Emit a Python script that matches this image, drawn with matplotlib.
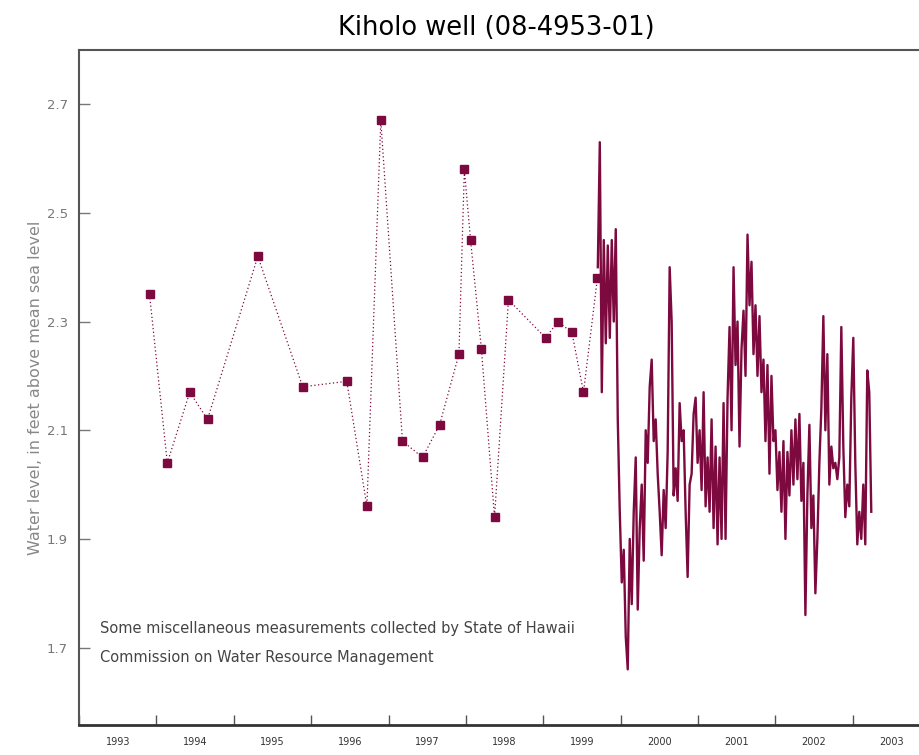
# Kiholo well water level record: occasional manual readings plus continuous record

import matplotlib.pyplot as plt
import numpy as np

# occasional measurements (decimal year, feet above msl)
manual_years = [1993.91, 1994.14, 1994.43, 1994.66, 1995.31, 1995.89, 1996.46,
                1996.72, 1996.90, 1997.18, 1997.44, 1997.66, 1997.91, 1997.98,
                1998.06, 1998.20, 1998.37, 1998.55, 1999.03, 1999.19, 1999.37,
                1999.52, 1999.70]
manual_levels = [2.35, 2.04, 2.17, 2.12, 2.42, 2.18, 2.19,
                 1.96, 2.67, 2.08, 2.05, 2.11, 2.24, 2.58,
                 2.45, 2.25, 1.94, 2.34, 2.27, 2.30, 2.28,
                 2.17, 2.38]

# continuous record, regularly sampled from mid 1999 to early 2003
record_start = 1999.705
record_end = 2003.24
record_levels = [
    2.40, 2.63, 2.17, 2.45, 2.26, 2.44, 2.27, 2.45, 2.30, 2.47,
    2.12, 1.95, 1.82, 1.88, 1.72, 1.66, 1.90, 1.78, 1.95, 2.05,
    1.77, 1.92, 2.00, 1.86, 2.10, 2.04, 2.18, 2.23, 2.08, 2.12,
    2.02, 1.95, 1.87, 1.99, 1.92, 2.06, 2.40, 2.30, 1.98, 2.03,
    1.97, 2.15, 2.08, 2.10, 1.95, 1.83, 2.00, 2.02, 2.13, 2.16,
    2.04, 2.10, 1.99, 2.17, 1.96, 2.05, 1.95, 2.12, 1.92, 2.07,
    1.89, 2.05, 1.90, 2.15, 1.90, 2.16, 2.29, 2.10, 2.40, 2.22,
    2.30, 2.07, 2.25, 2.32, 2.20, 2.46, 2.33, 2.41, 2.24, 2.33,
    2.20, 2.31, 2.17, 2.23, 2.08, 2.22, 2.02, 2.20, 2.08, 2.10,
    1.99, 2.06, 1.95, 2.08, 1.90, 2.06, 1.98, 2.10, 2.00, 2.12,
    2.01, 2.13, 1.97, 2.04, 1.76, 1.98, 2.11, 1.92, 1.98, 1.80,
    1.90, 2.04, 2.14, 2.31, 2.10, 2.24, 2.00, 2.07, 2.03, 2.04,
    2.01, 2.05, 2.29, 2.07, 1.94, 2.00, 1.96, 2.16, 2.27, 2.04,
    1.89, 1.95, 1.90, 2.00, 1.89, 2.21, 2.17, 1.95]

year_labels = [str(y) for y in range(1993, 2004)]
y_ticks = [1.7, 1.9, 2.1, 2.3, 2.5, 2.7]

color = '#7d0a3e'


def main():
    plt.rcParams['font.family'] = ['DejaVu Sans']
    fig = plt.figure(figsize=(9.2, 7.55), dpi=100)
    ax = fig.add_axes([0.086, 0.04, 0.914, 0.894])

    record_years = np.linspace(record_start, record_end, len(record_levels))

    ax.plot(manual_years, manual_levels, linestyle=(0, (1, 2)), lw=0.9,
            color=color, marker='s', markersize=5.5, zorder=3)
    ax.plot(record_years, record_levels, '-', lw=1.7, color=color, zorder=2)

    ax.set_xlim(1993.0, 2003.87)
    ax.set_ylim(1.558, 2.80)

    ax.set_xticks(range(1993, 2004))
    ax.set_xticklabels([])
    ax.set_xticks([y + 0.5 for y in range(1993, 2004)], minor=True)
    ax.set_xticklabels(year_labels, minor=True, fontsize=7, color='#333333')
    ax.tick_params(axis='x', which='major', direction='in', length=7,
                   width=1, color='#555555')
    ax.tick_params(axis='x', which='minor', length=0, pad=9)

    ax.set_yticks(y_ticks)
    ax.set_yticklabels(['{:.1f}'.format(v) for v in y_ticks],
                       fontsize=9.5, color='#777777')
    ax.tick_params(axis='y', direction='in', length=8, width=1,
                   color='#777777', pad=8)

    ax.spines['right'].set_visible(False)
    ax.spines['bottom'].set_linewidth(2)
    ax.spines['bottom'].set_color('#333333')
    ax.spines['left'].set_linewidth(1.5)
    ax.spines['left'].set_color('#555555')
    ax.spines['top'].set_linewidth(1.5)
    ax.spines['top'].set_color('#555555')

    ax.set_ylabel('Water level, in feet above mean sea level', fontsize=11.5,
                  color='#888888', labelpad=3)
    fig.suptitle('Kiholo well (08-4953-01)', fontsize=18.5, x=0.54, y=0.98)

    ax.text(1993.27, 1.735, 'Some miscellaneous measurements collected by State of Hawaii',
            fontsize=10.5, color='#444444', va='center')
    ax.text(1993.27, 1.682, 'Commission on Water Resource Management',
            fontsize=10.5, color='#444444', va='center')

    fig.savefig('out.png', dpi=100)


if __name__ == '__main__':
    main()
